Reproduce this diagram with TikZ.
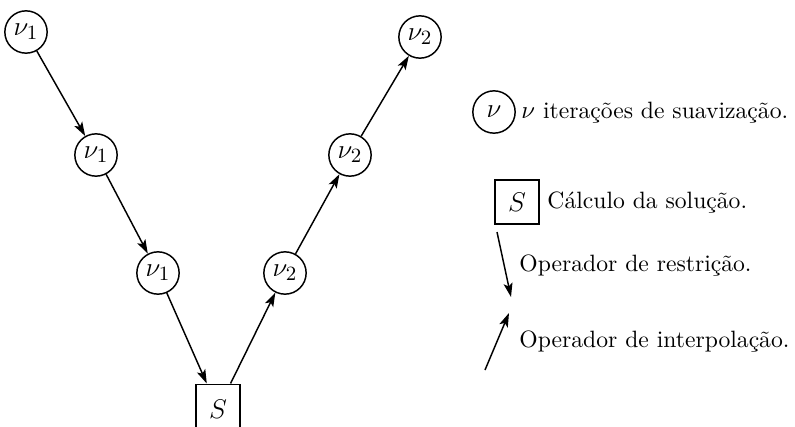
\documentclass[tikz,border=0pt]{standalone}
\usetikzlibrary{arrows.meta}
\begin{document}
\begin{tikzpicture}[x=0.4444pt,y=-0.4444pt,
  font=\fontsize{10.5}{13}\selectfont,
  smooth/.style={draw,circle,line width=0.65pt,minimum size=18.8pt,inner sep=0pt,font=\fontsize{13}{15}\selectfont},
  solve/.style={draw,rectangle,line width=0.65pt,minimum width=19.5pt,minimum height=19.5pt,inner sep=0pt,font=\fontsize{13}{15}\selectfont},
  op/.style={line width=0.65pt,-{Stealth[length=6.2pt,width=4pt,inset=1.4pt]}},
  lbl/.style={anchor=west,inner sep=0pt}]
\clip (0,0) rectangle (795,427);
\useasboundingbox (0,0) rectangle (795,427);
% V-cycle nodes
\node[smooth] (a1) at (26,32) {$\nu_1$};
\node[smooth] (a2) at (96,155) {$\nu_1$};
\node[smooth] (a3) at (158,273) {$\nu_1$};
\node[solve,minimum height=22pt] (s) at (218,409) {$S$};
\node[smooth] (b3) at (285,273) {$\nu_2$};
\node[smooth] (b2) at (350,155) {$\nu_2$};
\node[smooth] (b1) at (420,37) {$\nu_2$};
% restriction and interpolation
\draw[op] (a1) -- (a2);
\draw[op] (a2) -- (a3);
\draw[op] (a3) -- (s);
\draw[op] (s) -- (b3);
\draw[op] (b3) -- (b2);
\draw[op] (b2) -- (b1);
% legend
\node[smooth] (lnu) at (494,112) {$\nu$};
\node[lbl] (tnu) at (521,113) {$\nu$ iterações de suavização.};
\node[solve] (ls) at (517,202) {$S$};
\node[lbl] (ts) at (547,203) {Cálculo da solução.};
\coordinate (r1) at (497,232);
\coordinate (r2) at (511,297);
\draw[op] (r1) -- (r2);
\node[lbl] (tr) at (519,266) {Operador de restrição.};
\coordinate (i1) at (485,370);
\coordinate (i2) at (509,313);
\draw[op] (i1) -- (i2);
\node[lbl] (ti) at (519,342) {Operador de interpolação.};
\end{tikzpicture}
\end{document}
